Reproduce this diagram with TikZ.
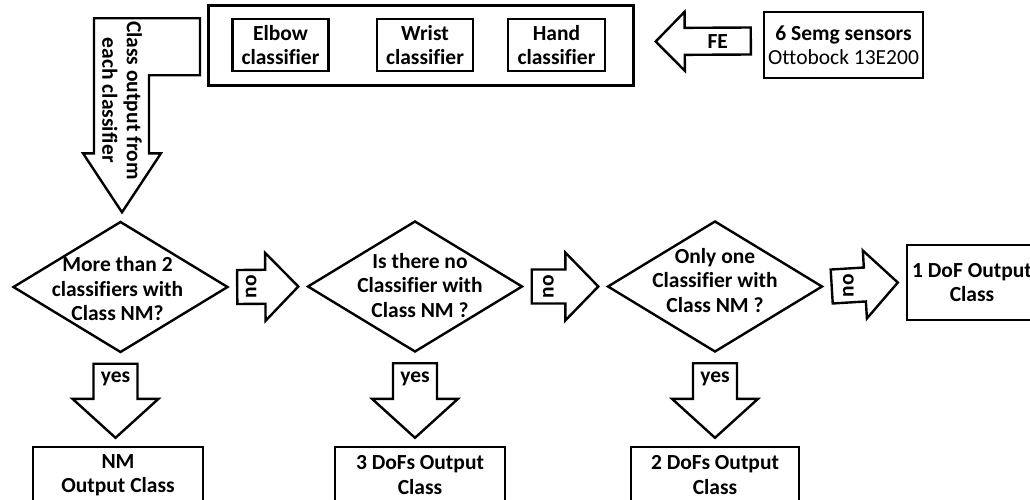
\documentclass[tikz,border=0pt]{standalone}
\usepackage{fontspec}
\setmainfont{Carlito}[Ligatures=NoCommon]
\usepackage{tikz}
\usetikzlibrary{calc,positioning,shapes.geometric}
\tikzset{%
	box/.style       = {draw, rectangle, line width=2.4pt, align=center, inner sep=0pt},
	decision/.style  = {draw, diamond, line width=2.4pt, inner sep=0pt, minimum width=215pt, minimum height=131pt},
	dtext/.style     = {align=center},
	blockarrow/.style= {draw, line width=2.4pt, line join=miter, fill=white},
}
% block arrow: from, to, shaft half width, head half width, head length, name of shaft centre
\newcommand{\blockarrow}[6]{%
	\path (#1) coordinate (ba-s) (#2) coordinate (ba-t);
	\path ($(ba-t)!#5pt!(ba-s)$) coordinate (ba-h);
	\draw[blockarrow] ($(ba-s)!#3pt!90:(ba-t)$) -- ($(ba-h)!#3pt!-90:(ba-s)$) -- ($(ba-h)!#4pt!-90:(ba-s)$) -- (ba-t)
		-- ($(ba-h)!#4pt!90:(ba-s)$) -- ($(ba-h)!#3pt!90:(ba-s)$) -- ($(ba-s)!#3pt!-90:(ba-t)$) -- cycle;
	\coordinate (#6) at ($(ba-s)!0.5!(ba-h)$);
}

\begin{document}
\begin{tikzpicture}[x=1pt,y=-1pt,font=\fontsize{21.5}{24.5}\selectfont\bfseries]
	\useasboundingbox (0,0) rectangle (1030,500);
	% classifiers
	\node[box, minimum width=425pt, minimum height=80pt] (cls) at (421,45.5) {};
	\node[box, minimum width=96pt, minimum height=52pt] (elbow) at (280.5,45) {Elbow\\classifier};
	\node[box, minimum width=96pt, minimum height=52pt] (wrist) at (425,45) {Wrist\\classifier};
	\node[box, minimum width=97pt, minimum height=52pt] (hand) at (556.5,45) {Hand\\classifier};
	\node[box, minimum width=159pt, minimum height=66pt] (sens) at (843.5,45) {6 Semg sensors\\{\mdseries Ottobock 13E200}};
	% decisions
	\node[decision] (d1) at (120.5,287) {};
	\node[decision] (d2) at (415,286.5) {};
	\node[decision] (d3) at (715,286.5) {};
	\node[dtext] (d1t) at ($(d1)+(-3,2)$) {More than 2\\classifiers with\\Class NM?};
	\node[dtext] (d2t) at ($(d2)+(5,-1)$) {Is there no\\Classifier with\\Class NM ?};
	\node[dtext] (d3t) at ($(d3)+(0,-6)$) {Only one\\Classifier with\\Class NM ?};
	% outputs
	\node[box, minimum width=130pt, minimum height=75pt] (out1) at (972,282.5) {1 DoF Output\\Class};
	\node[box, minimum width=170pt, minimum height=56pt] (nm) at (118,475) {NM\\Output Class};
	\node[box, minimum width=170pt, minimum height=56pt] (dof3) at (420,475) {3 DoFs Output\\Class};
	\node[box, minimum width=168pt, minimum height=56pt] (dof2) at (715,475) {2 DoFs Output\\Class};

	% arrows
	\blockarrow{$(sens.west)+(-12,-4)$}{$(cls.east)+(21,-4)$}{13.5}{29.5}{29}{fe}
	\node (fet) at (fe) {FE};
	\coordinate (ltip) at ($(d1.north)+(1.5,-8)$);
	\draw[blockarrow] (ltip) -- ++(-39,-59) -- ++(11,0) -- ++(0,-135) -- ++(106,0) -- ++(0,57)
		-- ++(-51,0) -- ++(0,78) -- ++(12,0) -- cycle;
	\node[align=center, rotate=-90] (clst) at ($(ltip)+(0,-112)$) {Class output from\\each classifier};
	\blockarrow{$(d1.east)+(8,0)$}{$(d2.west)+(-8,0)$}{17}{34}{33}{no1}
	\blockarrow{$(d2.east)+(8,0)$}{$(d3.west)+(-8,0)$}{17}{34}{33}{no2}
	\blockarrow{$(d3.east)+(8,0)$}{$(out1.west)+(-8,0)$}{17}{34}{33}{no3}
	\foreach \n in {no1,no2,no3}
		\node[rotate=90] (\n t) at (\n) {no};
	\blockarrow{$(d1.south)+(-5,10)$}{$(d1.south |- nm.north)+(-5,-8)$}{22}{43}{39}{yes1}
	\blockarrow{$(d2.south)+(0,10)$}{$(d2.south |- dof3.north)+(0,-8)$}{22}{43}{39}{yes2}
	\blockarrow{$(d3.south)+(0,10)$}{$(d3.south |- dof2.north)+(0,-8)$}{22}{43}{39}{yes3}
	\foreach \n in {yes1,yes2,yes3}
		\node (\n t) at ($(\n)+(0,-2)$) {yes};
\end{tikzpicture}
\end{document}
